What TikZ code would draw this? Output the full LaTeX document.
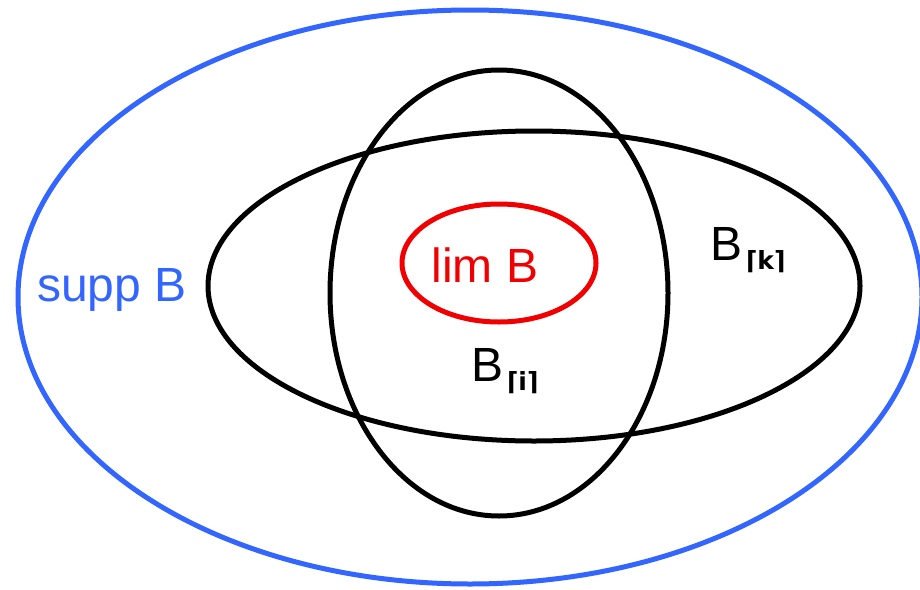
\documentclass[tikz,border=0pt]{standalone}
\usepackage{fontspec}
\setmainfont{Liberation Sans}
\newfontfamily\ceilfont{DejaVu Sans}
\usepackage{tikz}
\usetikzlibrary{positioning}
\definecolor{cSupp}{RGB}{51,102,255}
\definecolor{cLim}{RGB}{240,0,0}

\begin{document}
\begin{tikzpicture}[x=1pt,y=-1pt,line width=5pt,
  lbl/.style={font=\fontsize{48}{48}\selectfont,inner sep=0pt},
  sub/.style={font=\ceilfont\bfseries\fontsize{25}{25}\selectfont,inner sep=0pt}]
  \useasboundingbox (0,0) rectangle (920,589);
  \clip (0,0) rectangle (920,589);
  % the sets
  \draw[cSupp] (470,297) ellipse [x radius=452,y radius=287];
  \draw[black] (534,286) ellipse [x radius=326,y radius=155];
  \draw[black] (499,293) ellipse [x radius=169,y radius=223];
  \draw[cLim]  (499,263) ellipse [x radius=97,y radius=59];
  % labels
  \node[lbl,cSupp] (supp) at (112,290) {supp B};
  \node[lbl,cLim] (lim) at (485,265) {lim B};
  \node[lbl] (bk) at (726,244) {B};
  \node[sub,anchor=base west] (bksub) at ([xshift=-1pt,yshift=-9pt]bk.base east) {⌈k⌉};
  \node[lbl] (bi) at (487,365) {B};
  \node[sub,anchor=base west] (bisub) at ([xshift=-1pt,yshift=-9pt]bi.base east) {⌈i⌉};
\end{tikzpicture}
\end{document}
